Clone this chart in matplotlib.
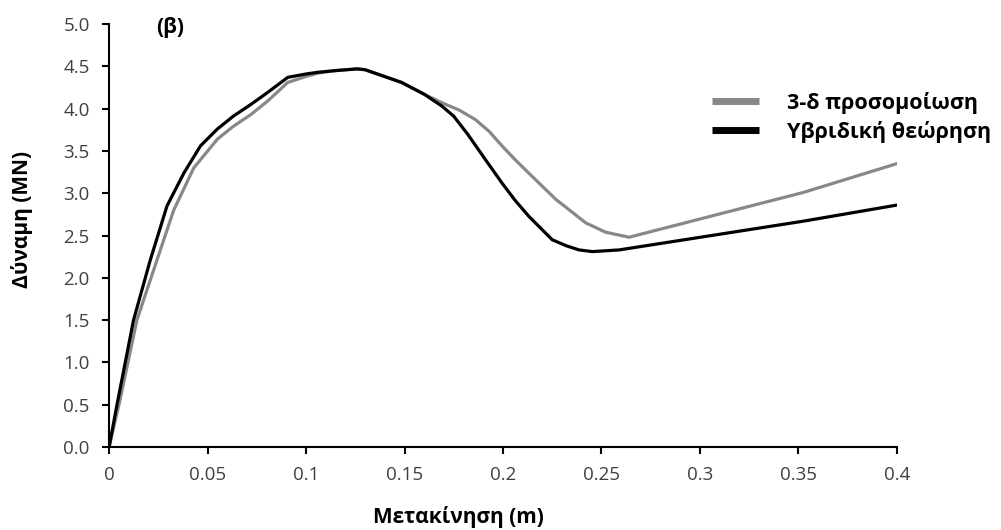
import matplotlib.pyplot as plt

# displacement (m) and force (MN)
x_hyb = [0, 0.004, 0.0124, 0.0209, 0.0294, 0.038, 0.0464, 0.055, 0.063, 0.072, 0.081,
         0.0907, 0.1, 0.106, 0.115, 0.126, 0.13, 0.1485, 0.16, 0.169, 0.175, 0.182,
         0.191, 0.1995, 0.206, 0.213, 0.225, 0.232, 0.2386, 0.2454, 0.259, 0.3526, 0.4]
y_hyb = [0, 0.5, 1.5, 2.21, 2.85, 3.24, 3.56, 3.76, 3.91, 4.05, 4.2,
         4.37, 4.41, 4.43, 4.45, 4.47, 4.46, 4.31, 4.17, 4.03, 3.91, 3.70,
         3.40, 3.12, 2.92, 2.73, 2.45, 2.38, 2.33, 2.31, 2.33, 2.67, 2.86]

x_3d = [0, 0.005, 0.0141, 0.0243, 0.0328, 0.043, 0.055, 0.063, 0.072, 0.081, 0.0907,
        0.1, 0.106, 0.115, 0.126, 0.13, 0.1485, 0.16, 0.169, 0.178, 0.186, 0.193,
        0.1995, 0.206, 0.213, 0.2267, 0.242, 0.252, 0.264, 0.3526, 0.4]
y_3d = [0, 0.5, 1.5, 2.21, 2.8, 3.3, 3.64, 3.79, 3.93, 4.1, 4.31,
        4.38, 4.42, 4.45, 4.47, 4.46, 4.31, 4.17, 4.07, 3.98, 3.87, 3.73,
        3.56, 3.40, 3.24, 2.93, 2.65, 2.54, 2.48, 3.01, 3.35]

xticks = [0, 0.05, 0.1, 0.15, 0.2, 0.25, 0.3, 0.35, 0.4]
xtick_labels = ['0', '0.05', '0.1', '0.15', '0.2', '0.25', '0.3', '0.35', '0.4']
yticks = [0.0, 0.5, 1.0, 1.5, 2.0, 2.5, 3.0, 3.5, 4.0, 4.5, 5.0]

plt.rcParams['font.family'] = ['Open Sans', 'DejaVu Sans']

fig = plt.figure(figsize=(10.01, 5.30), dpi=100)
ax = fig.add_axes([0.109, 0.1566, 0.787, 0.798])

ax.plot(x_3d, y_3d, color='#888888', lw=2.3, label='3-δ προσομοίωση')
ax.plot(x_hyb, y_hyb, color='black', lw=2.3, label='Υβριδική θεώρηση')

ax.set_xlim(0, 0.4)
ax.set_ylim(0, 5.0)
ax.set_xticks(xticks)
ax.set_xticklabels(xtick_labels)
ax.set_yticks(yticks)
ax.set_yticklabels(['%.1f' % v for v in yticks])
ax.spines['top'].set_visible(False)
ax.spines['right'].set_visible(False)
for s in ['left', 'bottom']:
    ax.spines[s].set_linewidth(1.5)
ax.tick_params(direction='out', length=5, width=1.5, labelsize=13.5,
               labelcolor='#404040', pad=9)

ax.set_xlabel('Μετακίνηση (m)', fontsize=15, fontweight='bold', va='center')
ax.xaxis.set_label_coords(0.444, -0.165)
ax.set_ylabel('Δύναμη (MN)', fontsize=15, fontweight='bold', va='center')
ax.yaxis.set_label_coords(-0.110, 0.539)

fig.text(0.170, 0.949, '(β)', fontsize=15, fontweight='bold', ha='center', va='center')

leg = ax.legend(loc='center left', bbox_to_anchor=(0.692, 0.779),
                bbox_transform=fig.transFigure, frameon=False,
                handlelength=2.2, handletextpad=1.3, labelspacing=0.32,
                prop={'size': 15.5, 'weight': 'bold'})
for line in leg.get_lines():
    line.set_linewidth(5)
    line.set_solid_capstyle('butt')

fig.savefig('out.png', dpi=100)
